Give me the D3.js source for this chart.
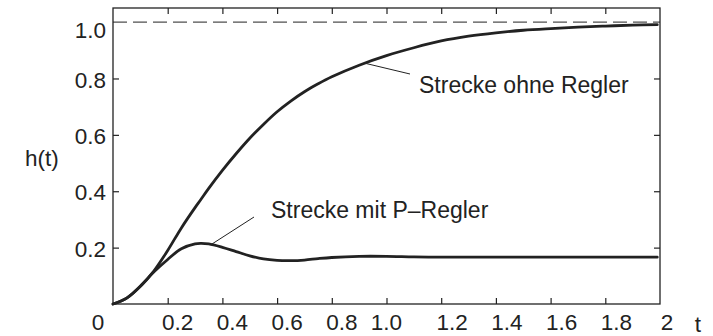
<!DOCTYPE html>
<html>
<head>
<meta charset="utf-8">
<script src="https://cdn.jsdelivr.net/npm/d3@7/dist/d3.min.js"></script>
<style>
  html, body { margin: 0; padding: 0; background: #fff; }
  svg { display: block; }
  text { font-family: "Liberation Sans", Arial, Helvetica, sans-serif; fill: #222; }
</style>
</head>
<body>
<svg id="chart" width="713" height="336"></svg>
<script>
// Step responses: plant alone and plant with proportional controller
const times = [0, 0.05, 0.1, 0.15, 0.2, 0.25, 0.3, 0.32, 0.35, 0.4, 0.45, 0.5, 0.55, 0.6, 0.65, 0.7, 0.75,
  0.8, 0.9, 1.0, 1.1, 1.2, 1.3, 1.4, 1.5, 1.6, 1.7, 1.8, 1.9, 1.99];
const hOhneRegler = [0, 0.021, 0.063, 0.118, 0.19, 0.27, 0.342, 0.369, 0.41, 0.474, 0.533, 0.588, 0.637, 0.682,
  0.72, 0.753, 0.781, 0.806, 0.847, 0.881, 0.909, 0.933, 0.950, 0.962, 0.971, 0.977, 0.982, 0.986, 0.989, 0.991];
const hMitPRegler = [0, 0.021, 0.063, 0.114, 0.158, 0.196, 0.213, 0.215, 0.213, 0.201, 0.186, 0.171, 0.160, 0.155,
  0.154, 0.156, 0.161, 0.165, 0.169, 0.169, 0.167, 0.166, 0.166, 0.166, 0.166, 0.166, 0.166, 0.166, 0.166, 0.166];

const xTickValues = [0.2, 0.4, 0.6, 0.8, 1.0, 1.2, 1.4, 1.6, 1.8];
const xTickLabels = ["0", "0.2", "0.4", "0.6", "0.8", "1.0", "1.2", "1.4", "1.6", "1.8", "2"];
const xLabelValues = [0, 0.2, 0.4, 0.6, 0.8, 1.0, 1.2, 1.4, 1.6, 1.8, 2];
const yTickValues = [0.2, 0.4, 0.6, 0.8];
const yLabelValues = [0.2, 0.4, 0.6, 0.8, 1.0];
const yTickLabels = ["0.2", "0.4", "0.6", "0.8", "1.0"];
const referenceLevel = 1.0;
const seriesNames = ["Strecke ohne Regler", "Strecke mit P\u2013Regler"];

const svg = d3.select("#chart");
const plotLeft = 113, plotRight = 660, plotTop = 8, plotBottom = 304;
const x = d3.scaleLinear().domain([0, 2]).range([plotLeft, plotRight]);
const y = d3.scaleLinear().domain([0, 1.05]).range([plotBottom, plotTop]);
const ink = "#222";
const labelSize = 22.5;

// Frame and inward ticks
const tickLen = 6;
const axisBottom = d3.axisBottom(x).tickValues(xTickValues).tickSize(tickLen).tickFormat("");
const axisTop = d3.axisTop(x).tickValues(xTickValues).tickSize(tickLen).tickFormat("");
const axisLeft = d3.axisLeft(y).tickValues(yTickValues).tickSize(tickLen).tickFormat("");
const axisRight = d3.axisRight(y).tickValues(yTickValues).tickSize(tickLen).tickFormat("");

function styleAxis(g) {
  g.select(".domain").remove();
  g.selectAll(".tick line").attr("stroke", ink).attr("stroke-width", 1.2);
}
svg.append("g").attr("transform", `translate(0,${plotBottom})`)
  .call(axisTop).call(styleAxis);
svg.append("g").attr("transform", `translate(0,${plotTop})`)
  .call(axisBottom).call(styleAxis);
svg.append("g").attr("transform", `translate(${plotLeft},0)`)
  .call(axisRight).call(styleAxis);
svg.append("g").attr("transform", `translate(${plotRight},0)`)
  .call(axisLeft).call(styleAxis);

svg.append("rect")
  .attr("x", plotLeft).attr("y", plotTop)
  .attr("width", plotRight - plotLeft).attr("height", plotBottom - plotTop)
  .attr("fill", "none").attr("stroke", ink).attr("stroke-width", 1.3);

// Dashed steady-state reference
svg.append("line")
  .attr("x1", plotLeft).attr("x2", plotRight)
  .attr("y1", y(referenceLevel)).attr("y2", y(referenceLevel))
  .attr("stroke", ink).attr("stroke-width", 1)
  .attr("stroke-dasharray", "14,6");

// Tick labels (hand-set nudges as in the printed figure)
function xNudge(v) {
  if (v === 0) return -15;
  if (v === 2) return 7;
  if (v === 1.0) return 0;
  return v < 1 ? 10 : 11;
}
svg.append("g").selectAll("text")
  .data(xLabelValues)
  .join("text")
  .attr("x", d => x(d) + xNudge(d))
  .attr("y", 330)
  .attr("text-anchor", "middle")
  .attr("font-size", labelSize)
  .text((d, i) => xTickLabels[i]);

svg.append("g").selectAll("text")
  .data(yLabelValues)
  .join("text")
  .attr("x", 106)
  .attr("y", d => y(d) + (d === 1.0 ? 8 : 1))
  .attr("dy", "0.36em")
  .attr("text-anchor", "end")
  .attr("font-size", labelSize)
  .text((d, i) => yTickLabels[i]);

svg.append("text").attr("x", 25).attr("y", 158).attr("dy", "0.36em")
  .attr("font-size", labelSize).text("h(t)");
svg.append("text").attr("x", 698).attr("y", 332).attr("text-anchor", "middle")
  .attr("font-size", labelSize).text("t");

// Curves
const line = d3.line()
  .x((d, i) => x(times[i]))
  .y(d => y(d))
  .curve(d3.curveCatmullRom.alpha(0.5));

[hOhneRegler, hMitPRegler].forEach(series => {
  svg.append("path")
    .attr("d", line(series))
    .attr("fill", "none")
    .attr("stroke", ink)
    .attr("stroke-width", 2.8)
    .attr("stroke-linejoin", "round")
    .attr("stroke-linecap", "round");
});

// Annotations with leader lines
svg.append("line").attr("x1", 364).attr("y1", 63).attr("x2", 410).attr("y2", 74)
  .attr("stroke", ink).attr("stroke-width", 1);
svg.append("text").attr("x", 419).attr("y", 93).attr("font-size", 23).text(seriesNames[0]);

svg.append("line").attr("x1", 212).attr("y1", 244).attr("x2", 254).attr("y2", 217)
  .attr("stroke", ink).attr("stroke-width", 1);
svg.append("text").attr("x", 271).attr("y", 218).attr("font-size", 23).text(seriesNames[1]);
</script>
</body>
</html>
